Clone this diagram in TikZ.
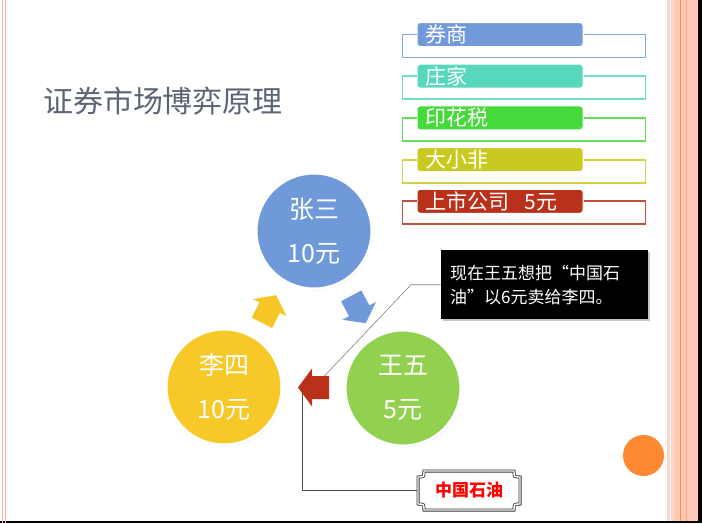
\documentclass[tikz,border=0pt]{standalone}
\usepackage{fontspec}
\setmainfont{Noto Sans CJK SC}
\usepackage{tikz}
\usepackage{xcolor}
\usetikzlibrary{calc,shadows,backgrounds}

\definecolor{tagblue}{HTML}{7299D9}
\definecolor{tagteal}{HTML}{57D7BC}
\definecolor{taggreen}{HTML}{46D93A}
\definecolor{tagolive}{HTML}{C9C91F}
\definecolor{tagred}{HTML}{B9301B}
\definecolor{zhangblue}{HTML}{7099D9}
\definecolor{liyellow}{HTML}{F6C928}
\definecolor{wanggreen}{HTML}{92D050}
\definecolor{titlegray}{HTML}{5B6573}
\definecolor{dotorange}{HTML}{FF8833}
\definecolor{salmon}{HTML}{FFC9B5}
\definecolor{salmonlight}{HTML}{FCD6C8}
\definecolor{stripeorange}{HTML}{FF8C40}

\begin{document}
\begin{tikzpicture}[x=1pt,y=-1pt,
  tag/.style={fill=#1,draw=white,line width=1pt,rounded corners=3pt,anchor=west,
    text=white,text width=150pt,inner xsep=8pt,inner ysep=0pt,minimum height=24pt,
    font=\fontsize{21}{22}\selectfont},
  bracket/.style={draw=#1,line width=1.8pt},
  player/.style={circle,fill=#1,draw=white,line width=3pt,minimum size=116pt,
    text=white,align=center,font=\fontsize{25}{44}\selectfont,
    drop shadow={opacity=0.25,shadow xshift=1pt,shadow yshift=-1.5pt}},
  trade/.pic={\fill (-15.5,-11.5) -- (1.5,-11.5) -- (1.5,-19) -- (15.5,0)
      -- (1.5,19) -- (1.5,11.5) -- (-15.5,11.5) -- cycle;},
  leader/.style={draw=gray,line width=0.6pt},
  plaque/.style={draw=black!80,line width=0.8pt,double=white,double distance=1.4pt}]
\useasboundingbox (0,0) rectangle (702,523);
% page frame
\fill[salmonlight] (667,0) rectangle (670,523);
\fill[salmonlight] (671.3,0) rectangle (673.5,523);
\fill[salmon] (673.5,0) rectangle (698,523);
\draw[stripeorange,line width=1pt] (680.5,0) -- (680.5,523);
\draw[stripeorange!50!salmon,line width=0.6pt] (686.5,0) -- (686.5,523);
\fill[black] (698,0) rectangle (702,523);
\fill[black] (0,520.5) rectangle (702,523);
\draw[salmon!90!red,line width=0.8pt] (2.5,0) -- (2.5,523) (5.2,0) -- (5.2,523);
% title
\node[text=titlegray,font=\fontsize{30}{34}\selectfont] (title) at (163,101) {证券市场博弈原理};
% tags
\foreach \i/\t/\c in {1/券商/tagblue,2/庄家/tagteal,3/印花税/taggreen,
    4/大小非/tagolive,5/{上市公司\hspace{16pt}5元}/tagred}
{
  \node[tag=\c] (tag\i) at (416.5,{34.5+41.7*(\i-1)}) {\t};
  \draw[bracket=\c!85!white] (tag\i.west) -| ++(-14,23)
      -| ([xshift=62pt]tag\i.east) -- (tag\i.east);
}
% players
\node[player=zhangblue] (zhang) at (314,231) {张三\\10元};
\node[player=liyellow] (li) at (224,387) {李四\\10元};
\node[player=wanggreen] (wang) at (403,388) {王五\\5元};
% trades
\coordinate (up) at ($(li)!0.5!(zhang)$);
\coordinate (down) at ($(zhang)!0.5!(wang)$);
\coordinate (back) at ($(wang)!0.5!(li)$);
\pic[fill=liyellow!95!orange,rotate=63] at (up) {trade};
\pic[fill=zhangblue,rotate=-62] at (down) {trade};
\pic[fill=tagred,rotate=180] at (back) {trade};
% note
\node[fill=black,text=white,anchor=north west,minimum width=207pt,minimum height=69pt,
    text width=189pt,inner xsep=9pt,align=left,font=\fontsize{17}{24}\selectfont,
    drop shadow={opacity=0.45,shadow xshift=2pt,shadow yshift=-2pt}]
    (note) at (441,250) {现在王五想把“中国石\\油”以6元卖给李四。};
% stock
\node[text=red,font=\fontsize{17}{20}\selectfont\bfseries,minimum width=102pt,
    minimum height=39pt] (oil) at (469,490.5) {中国石油};
\draw[plaque,shift={(oil.center)}] (-45,-19.5) -- (45,-19.5)
    .. controls (45,-13.5) .. (51,-13.5) -- (51,13.5)
    .. controls (45,13.5) .. (45,19.5) -- (-45,19.5)
    .. controls (-45,13.5) .. (-51,13.5) -- (-51,-13.5)
    .. controls (-45,-13.5) .. (-45,-19.5) -- cycle;
% leaders
\begin{scope}[on background layer]
\draw[leader] (note.west) -- ++(-30,0) -- (back);
\draw[leader,draw=black!70] ([xshift=-11pt]back) |- (oil.west);
\end{scope}
% dot
\fill[dotorange] (643.5,455.5) circle (20.5pt);
\end{tikzpicture}
\end{document}
